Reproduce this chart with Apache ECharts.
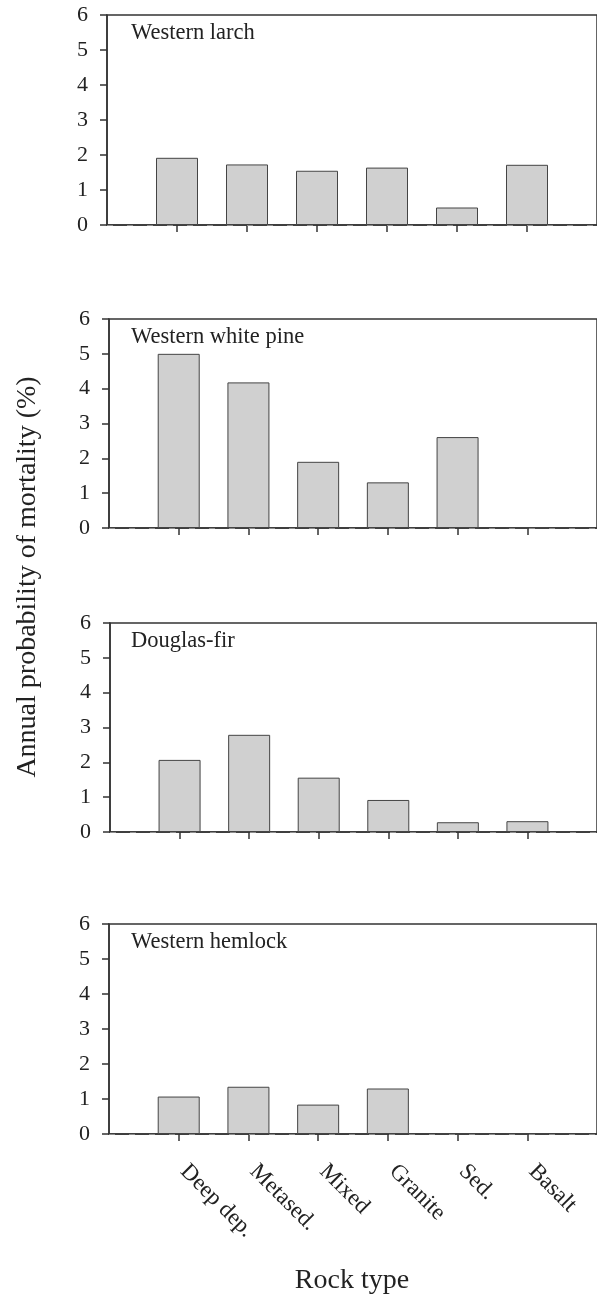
<!DOCTYPE html>
<html>
<head>
<meta charset="utf-8">
<script src="https://cdn.jsdelivr.net/npm/echarts@6/dist/echarts.min.js"></script>
<style>
  html, body { margin: 0; padding: 0; background: #fff; }
  #chart { width: 597px; height: 1298px; }
</style>
</head>
<body>
<div id="chart"></div>
<script>
// ---- data ----
const categories = ['Deep dep.', 'Metased.', 'Mixed', 'Granite', 'Sed.', 'Basalt'];
const panelTitles = ['Western larch', 'Western white pine', 'Douglas-fir', 'Western hemlock'];
const larch      = [1.92, 1.73, 1.55, 1.64, 0.50, 1.72];
const whitePine  = [5.00, 4.18, 1.90, 1.31, 2.61, 0];
const douglasFir = [2.07, 2.79, 1.56, 0.92, 0.28, 0.31];
const hemlock    = [1.07, 1.35, 0.84, 1.30, 0, 0];
const yMin = 0, yMax = 6, yStep = 1;
const yTitle = 'Annual probability of mortality (%)';
const xTitle = 'Rock type';

const seriesValues = [larch, whitePine, douglasFir, hemlock];

// ---- layout ----
const FONT = "'Liberation Serif', 'Times New Roman', serif";
const TEXT = '#222';
const LINE = '#333';
const panels = [
  { left: 107, top: 15,  height: 210 },
  { left: 109, top: 319, height: 209 },
  { left: 110, top: 623, height: 209 },
  { left: 109, top: 924, height: 210 }
];
const slotCats = [''].concat(categories).concat(['']);
const inner = (i) => i >= 1 && i <= categories.length;

const grid = [], xAxis = [], yAxis = [], series = [], title = [];
panels.forEach((p, k) => {
  grid.push({
    left: p.left, top: p.top, width: 492, height: p.height,
    show: true, borderColor: LINE, borderWidth: 1.5, containLabel: false
  });
  const last = k === panels.length - 1;
  xAxis.push({
    type: 'category', gridIndex: k, data: slotCats, boundaryGap: false,
    axisLine: { show: true, lineStyle: { color: LINE, width: 1.5 } },
    axisTick: { show: true, inside: false, length: 7, interval: inner,
                lineStyle: { color: LINE, width: 1.5 } },
    axisLabel: {
      show: last, interval: inner, rotate: -45, margin: 29, padding: [0, 0, 0, 7],
      fontFamily: FONT, fontSize: 23, color: TEXT
    },
    splitLine: { show: false }
  });
  yAxis.push({
    type: 'value', gridIndex: k, min: yMin, max: yMax, interval: yStep,
    axisLine: { show: true, lineStyle: { color: LINE, width: 1.5 } },
    axisTick: { show: true, inside: false, length: 7, lineStyle: { color: LINE, width: 1.5 } },
    axisLabel: { margin: 19, fontFamily: FONT, fontSize: 22, color: TEXT },
    splitLine: { show: false }
  });
  series.push({
    type: 'bar', xAxisIndex: k, yAxisIndex: k,
    data: [null].concat(seriesValues[k]).concat([null]),
    barWidth: 42,
    itemStyle: { color: '#d0d0d0', borderColor: '#444', borderWidth: 1 },
    markLine: {
      silent: true, symbol: ['none', 'none'], label: { show: false },
      lineStyle: { color: '#8c8c8c', type: [6, 14], width: 1 },
      data: [{ yAxis: 0 }]
    }
  });
  title.push({
    text: panelTitles[k], left: 131, top: p.top + 7, padding: 0,
    textStyle: { fontFamily: FONT, fontSize: 22.5, fontWeight: 'normal', color: TEXT }
  });
});

const chart = echarts.init(document.getElementById('chart'), null, { renderer: 'canvas' });
chart.setOption({
  animation: false,
  backgroundColor: '#fff',
  title, grid, xAxis, yAxis, series,
  graphic: [
    {
      type: 'text', x: 28, y: 577, rotation: Math.PI / 2,
      style: { text: yTitle, font: "28px 'Liberation Serif', serif", fill: TEXT,
               textAlign: 'center', textVerticalAlign: 'middle' }
    },
    {
      type: 'text', x: 352, y: 1281,
      style: { text: xTitle, font: "28px 'Liberation Serif', serif", fill: TEXT,
               textAlign: 'center', textVerticalAlign: 'middle' }
    }
  ]
});
</script>
</body>
</html>
